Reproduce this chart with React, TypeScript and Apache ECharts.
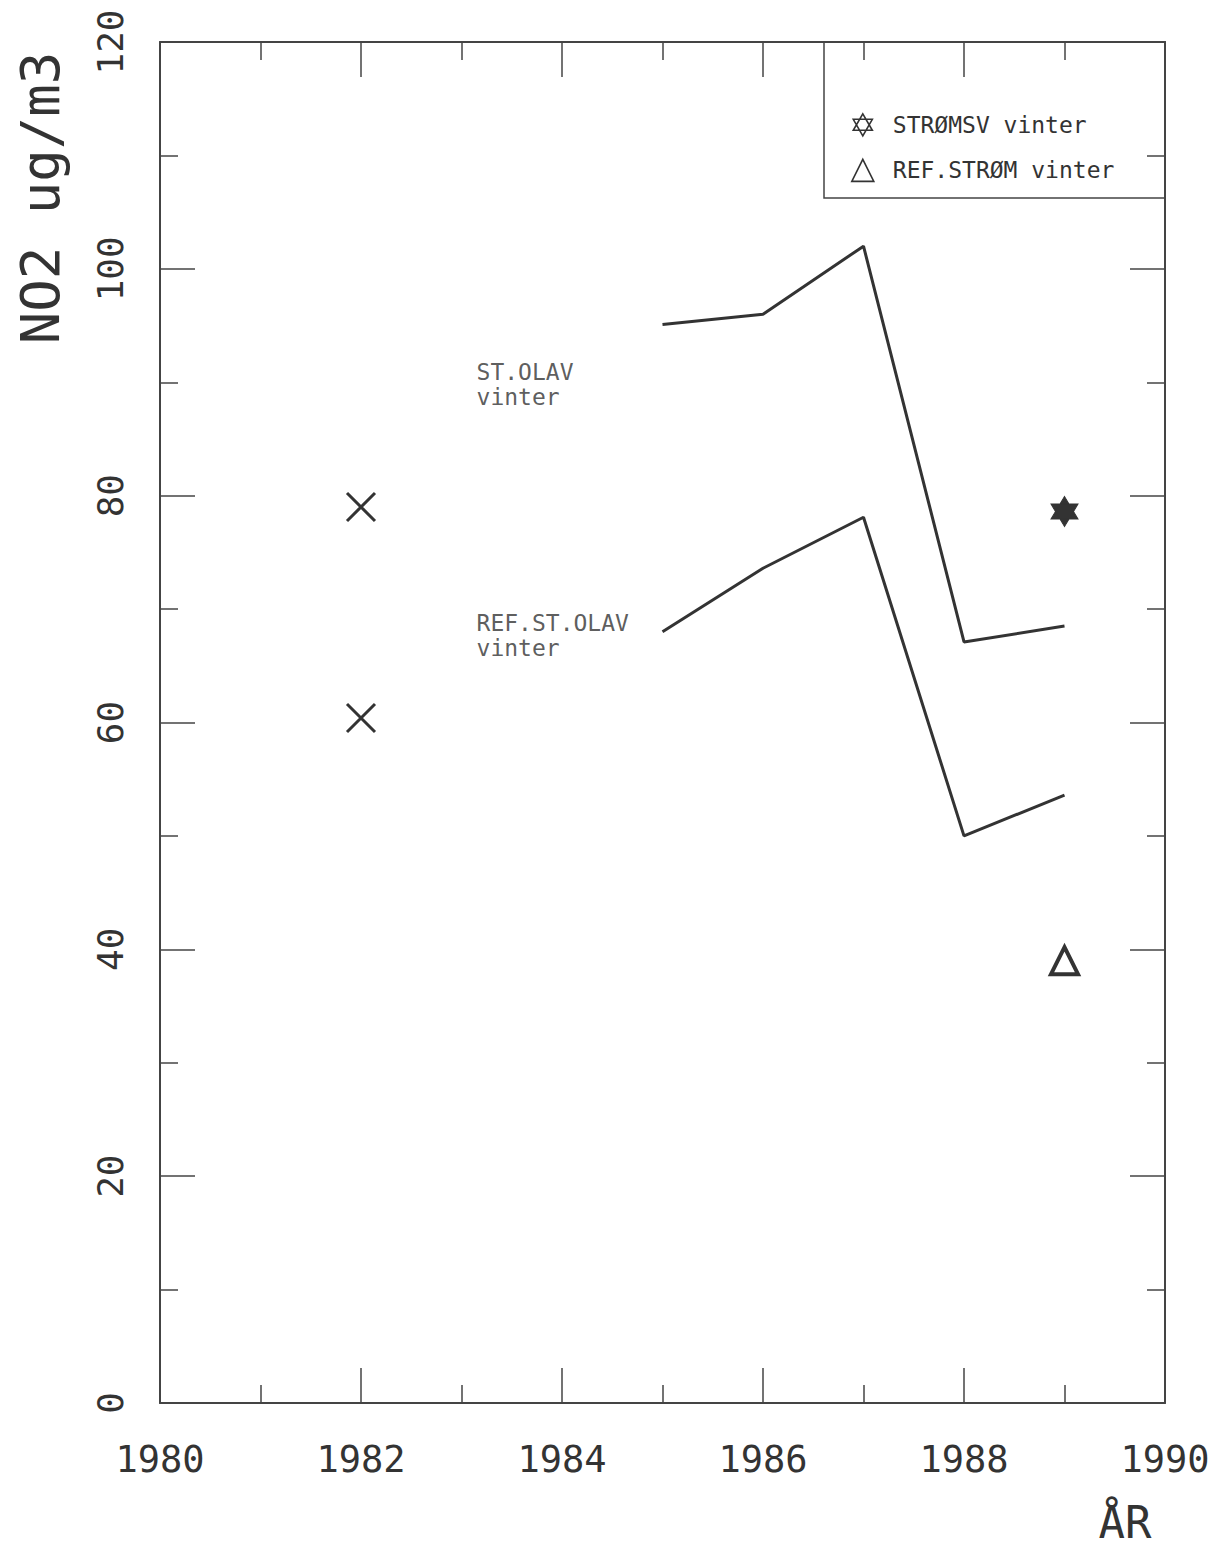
import React, { useEffect, useRef } from "react";
import * as echarts from "echarts";

// ---- data ----
const lineYears = [1985, 1986, 1987, 1988, 1989];
const stOlavVinter = [95.1, 96.0, 102.0, 67.1, 68.5];
const refStOlavVinter = [68.0, 73.6, 78.1, 50.0, 53.6];
const crossYears = [1982, 1982];
const crossValues = [79.0, 60.4];
const stromsvYears = [1989];
const stromsvValues = [78.6];
const refStromYears = [1989];
const refStromValues = [39.0];
const annotationTexts = ["ST.OLAV\nvinter", "REF.ST.OLAV\nvinter"];
const annotationX = [1983.15, 1983.15];
const annotationY = [89.8, 67.7];
const legendNames = ["STRØMSV vinter", "REF.STRØM vinter"];
const xTitle = "ÅR";
const yTitle = "NO2 ug/m3";

const FONT = "'DejaVu Sans Mono', 'Liberation Mono', monospace";
const INK = "#333";
const HEX = "path://M50,0L93.3,75L6.7,75ZM50,100L6.7,25L93.3,25Z";
const CROSS = "path://M0,0L10,10M10,0L0,10";

export default function App() {
  const ref = useRef<HTMLDivElement>(null);
  useEffect(() => {
    if (!ref.current) return;
    const chart = echarts.init(ref.current, undefined, { renderer: "svg" });
    const axisCommon = {
      type: "value" as const,
      axisLine: { show: true, onZero: false, lineStyle: { color: "#444", width: 2 } },
      axisTick: { show: true, inside: true, length: 35, lineStyle: { color: "#444", width: 1.5 } },
      minorTick: { show: true, splitNumber: 2, length: 18, lineStyle: { color: "#444", width: 1.5 } },
      splitLine: { show: false },
      minorSplitLine: { show: false },
    };
    const option: any = {
      animation: false,
      backgroundColor: "#fff",
      grid: { left: 160, right: 62, top: 42, bottom: 147, containLabel: false, outerBoundsMode: "none" },
      xAxis: [
        {
          ...axisCommon,
          position: "bottom",
          min: 1980,
          max: 1990,
          interval: 2,
          axisLabel: {
            show: true,
            margin: 38,
            fontFamily: FONT,
            fontSize: 37,
            color: INK,
            formatter: (v: number) => String(v),
          },
        },
        {
          ...axisCommon,
          position: "top",
          min: 1980,
          max: 1990,
          interval: 2,
          axisLabel: { show: false },
        },
      ],
      yAxis: [
        {
          ...axisCommon,
          position: "left",
          min: 0,
          max: 120,
          interval: 20,
          axisLabel: {
            show: true,
            rotate: 90,
            margin: 32,
            fontFamily: FONT,
            fontSize: 36,
            color: INK,
          },
        },
        {
          ...axisCommon,
          position: "right",
          min: 0,
          max: 120,
          interval: 20,
          axisLabel: { show: false },
        },
      ],
      legend: {
        orient: "vertical",
        left: 846,
        top: 108,
        itemWidth: 22,
        itemHeight: 22,
        itemGap: 22,
        textStyle: { fontFamily: FONT, fontSize: 23, color: INK, lineHeight: 22, padding: [0, 0, 0, 14] },
        data: [
          {
            name: legendNames[0],
            icon: HEX,
            itemStyle: { color: "transparent", borderColor: INK, borderWidth: 1.6, opacity: 1 },
          },
          {
            name: legendNames[1],
            icon: "triangle",
            itemStyle: { color: "transparent", borderColor: INK, borderWidth: 1.6, opacity: 1 },
          },
        ],
      },
      graphic: [
        {
          type: "rect",
          shape: { x: 824, y: 42, width: 341, height: 156 },
          style: { fill: "none", stroke: "#444", lineWidth: 1.5 },
          silent: true,
        },
        {
          type: "text",
          x: 40,
          y: 198,
          rotation: Math.PI / 2,
          style: {
            text: yTitle,
            fontFamily: FONT,
            fontSize: 54,
            fill: INK,
            align: "center",
            verticalAlign: "middle",
          },
        },
        {
          type: "text",
          x: 1125,
          y: 1522,
          style: {
            text: xTitle,
            fontFamily: FONT,
            fontSize: 44,
            fill: INK,
            align: "center",
            verticalAlign: "middle",
          },
        },
      ],
      series: [
        {
          name: "ST.OLAV vinter",
          type: "line",
          data: lineYears.map((y, i) => [y, stOlavVinter[i]]),
          showSymbol: false,
          lineStyle: { color: INK, width: 3 },
          itemStyle: { color: INK },
        },
        {
          name: "REF.ST.OLAV vinter",
          type: "line",
          data: lineYears.map((y, i) => [y, refStOlavVinter[i]]),
          showSymbol: false,
          lineStyle: { color: INK, width: 3 },
          itemStyle: { color: INK },
        },
        {
          name: "1982",
          type: "scatter",
          data: crossYears.map((y, i) => [y, crossValues[i]]),
          symbol: CROSS,
          symbolSize: 28,
          itemStyle: { color: "transparent", borderColor: INK, borderWidth: 3, opacity: 1 },
        },
        {
          name: legendNames[0],
          type: "scatter",
          data: stromsvYears.map((y, i) => [y, stromsvValues[i]]),
          symbol: HEX,
          symbolSize: [27, 30],
          itemStyle: { color: INK, borderColor: INK, borderWidth: 1, opacity: 1 },
        },
        {
          name: legendNames[1],
          type: "scatter",
          data: refStromYears.map((y, i) => [y, refStromValues[i]]),
          symbol: "triangle",
          symbolSize: [27, 27],
          itemStyle: { color: "#fff", borderColor: INK, borderWidth: 4, opacity: 1 },
        },
        {
          name: "annotations",
          type: "scatter",
          silent: true,
          symbolSize: 0,
          data: annotationTexts.map((t, i) => ({ value: [annotationX[i], annotationY[i]], text: t })),
          label: {
            show: true,
            position: "right",
            distance: 0,
            align: "left",
            verticalAlign: "middle",
            fontFamily: FONT,
            fontSize: 23,
            lineHeight: 25,
            color: INK,
            formatter: (p: any) => p.data.text,
          },
        },
      ],
    };
    chart.setOption(option);
    return () => chart.dispose();
  }, []);
  return (
    <div
      ref={ref}
      style={{ position: "absolute", left: 0, top: 0, width: 1227, height: 1550, background: "#fff" }}
    />
  );
}
